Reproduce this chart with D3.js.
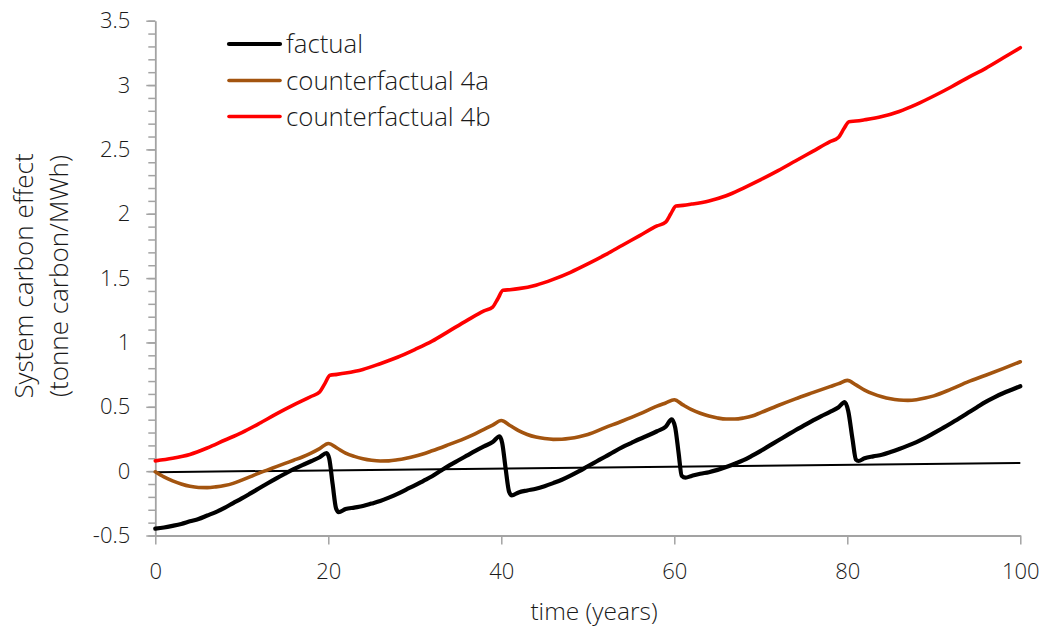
<!DOCTYPE html>
<html>
<head>
<meta charset="utf-8">
<script src="https://cdn.jsdelivr.net/npm/d3@7"></script>
<style>
  html, body { margin: 0; padding: 0; background: #fff; }
  svg { display: block; }
  text { font-family: "Open Sans", Lato, sans-serif; font-weight: 300; fill: #1a1a1a; }
</style>
</head>
<body>
<svg id="chart" width="1047" height="634"></svg>
<script>
// ---- series data: time (years) and system carbon effect (tonne carbon/MWh) ----
const factualX = [0,1,2,3,4,5,6,7,8,9,10,11,12,13,14,15,16,17,18,19,19.8,20.1,20.5,20.9,21.2,22,23,24,25,26,27,28,29,30,31,32,33,34,35,36,37,38,39,39.8,40.1,40.5,40.9,41.2,42,43,44,45,46,47,48,49,50,51,52,53,54,55,56,57,58,59,59.7,60.1,60.5,60.85,61.3,62,63,64,65,66,67,68,69,70,71,72,73,74,75,76,77,78,79,79.7,80.1,80.6,81,81.3,82,83,84,85,86,87,88,89,90,91,92,93,94,95,96,97,98,99,100];
const factualY = [-0.447,-0.438,-0.425,-0.41,-0.39,-0.372,-0.345,-0.318,-0.285,-0.248,-0.212,-0.173,-0.133,-0.094,-0.056,-0.02,0.015,0.047,0.077,0.108,0.141,0.10,-0.1,-0.29,-0.318,-0.295,-0.283,-0.271,-0.252,-0.232,-0.206,-0.177,-0.143,-0.11,-0.075,-0.04,0.003,0.045,0.083,0.12,0.157,0.192,0.226,0.27,0.22,0.02,-0.16,-0.188,-0.165,-0.15,-0.137,-0.117,-0.093,-0.067,-0.035,0.0,0.038,0.075,0.112,0.15,0.186,0.218,0.25,0.279,0.31,0.345,0.403,0.34,0.14,-0.035,-0.05,-0.037,-0.02,-0.008,0.01,0.032,0.058,0.085,0.12,0.158,0.198,0.238,0.278,0.318,0.355,0.392,0.428,0.46,0.497,0.537,0.47,0.25,0.09,0.079,0.1,0.115,0.127,0.148,0.172,0.198,0.226,0.258,0.295,0.333,0.372,0.413,0.455,0.497,0.538,0.573,0.605,0.633,0.66];

const cf4aX = [0,1,2,3,4,5,6,7,8,9,10,11,12,13,14,15,16,17,18,19,20,21,22,23,24,25,26,27,28,29,30,32,34,36,38,39,40,41,42,43,44,45,46,47,48,49,50,52,54,56,58,59,60,61,62,63,64,65,66,67,68,69,70,72,74,76,78,79,80,81,82,83,84,85,86,87,88,89,90,92,94,96,98,100];
const cf4aY = [-0.005,-0.045,-0.075,-0.1,-0.118,-0.127,-0.128,-0.122,-0.112,-0.095,-0.07,-0.043,-0.015,0.01,0.035,0.06,0.085,0.11,0.14,0.175,0.215,0.18,0.14,0.115,0.097,0.085,0.079,0.08,0.088,0.1,0.115,0.158,0.208,0.26,0.325,0.358,0.393,0.355,0.315,0.285,0.265,0.253,0.247,0.248,0.255,0.268,0.285,0.338,0.39,0.445,0.505,0.53,0.555,0.515,0.478,0.45,0.428,0.413,0.405,0.405,0.413,0.428,0.455,0.51,0.562,0.61,0.657,0.68,0.705,0.67,0.63,0.6,0.578,0.562,0.553,0.55,0.555,0.568,0.585,0.637,0.695,0.745,0.797,0.85];

const cf4bX = [0,2,4,6,8,10,12,14,16,18,19,19.6,20.2,21,22,24,26,28,30,32,34,36,38,39,39.6,40.2,41,42,44,46,48,50,52,54,56,58,59,59.6,60.2,61,62,64,66,68,70,72,74,76,78,79,79.6,80.2,81,82,84,86,88,90,92,94,96,98,100];
const cf4bY = [0.08,0.10,0.13,0.18,0.24,0.30,0.37,0.445,0.515,0.58,0.615,0.68,0.745,0.752,0.762,0.79,0.835,0.885,0.945,1.01,1.09,1.17,1.245,1.275,1.34,1.405,1.41,1.418,1.445,1.49,1.545,1.61,1.68,1.755,1.83,1.905,1.935,2.0,2.06,2.065,2.075,2.10,2.14,2.20,2.265,2.335,2.41,2.485,2.56,2.595,2.66,2.715,2.72,2.73,2.755,2.795,2.85,2.915,2.985,3.06,3.13,3.21,3.29];

// straight reference line
const refX = [0, 100];
const refY = [-0.008, 0.063];

const seriesNames = ["factual", "counterfactual 4a", "counterfactual 4b"];
const seriesColors = ["#000000", "#A3540F", "#FF0000"];

const xTicks = [0, 20, 40, 60, 80, 100];
const yTicks = [-0.5, 0, 0.5, 1, 1.5, 2, 2.5, 3, 3.5];
const yMinorTicks = d3.range(-5, 36).map(i => i / 10);

const xTitle = "time (years)";
const yTitleLines = ["System carbon effect", "(tonne carbon/MWh)"];

// ---- layout ----
const svg = d3.select("#chart");
const plot = { left: 155.3, right: 1020.3, top: 20.7, bottom: 535.5 };

const x = d3.scaleLinear().domain([0, 100]).range([plot.left, plot.right]);
const y = d3.scaleLinear().domain([-0.5, 3.5]).range([plot.bottom, plot.top]);

const axisColor = "#A3A3A3";
const fontFamily = "'Open Sans', Lato, sans-serif";

// y axis: minor ticks first, then major ticks with labels
const yMinor = svg.append("g").attr("transform", `translate(${plot.left},0)`)
  .call(d3.axisLeft(y).tickValues(yMinorTicks).tickSize(7).tickFormat(""));
yMinor.select(".domain").remove();
yMinor.selectAll("line").attr("stroke", axisColor).attr("stroke-width", 1.5);

const yAxis = svg.append("g").attr("transform", `translate(${plot.left},0)`)
  .call(d3.axisLeft(y).tickValues(yTicks).tickSize(9).tickSizeOuter(0).tickPadding(16)
    .tickFormat(d => String(d)));
yAxis.select(".domain").attr("stroke", axisColor).attr("stroke-width", 1.8);
yAxis.selectAll("line").attr("stroke", axisColor).attr("stroke-width", 1.5);
yAxis.selectAll("text").attr("font-size", 22).attr("font-family", fontFamily).attr("font-weight", 300).attr("fill", "#1a1a1a");

const xAxis = svg.append("g").attr("transform", `translate(0,${plot.bottom})`)
  .call(d3.axisBottom(x).tickValues(xTicks).tickSize(9).tickSizeOuter(0).tickPadding(19)
    .tickFormat(d => String(d)));
xAxis.select(".domain").attr("stroke", axisColor).attr("stroke-width", 1.8);
xAxis.selectAll("line").attr("stroke", axisColor).attr("stroke-width", 1.5);
xAxis.selectAll("text").attr("font-size", 22).attr("font-family", fontFamily).attr("font-weight", 300).attr("fill", "#1a1a1a");

// ---- lines ----
const line = d3.line().x(d => x(d[0])).y(d => y(d[1])).curve(d3.curveMonotoneX);
const zip = (xs, ys) => xs.map((v, i) => [v, ys[i]]);

svg.append("path").datum(zip(refX, refY))
  .attr("d", d3.line().x(d => x(d[0])).y(d => y(d[1])))
  .attr("fill", "none").attr("stroke", "#000").attr("stroke-width", 2);

const series = [zip(factualX, factualY), zip(cf4aX, cf4aY), zip(cf4bX, cf4bY)];
const widths = [4.2, 3.6, 3.6];
series.forEach((s, i) => {
  svg.append("path").datum(s).attr("d", line)
    .attr("fill", "none").attr("stroke", seriesColors[i])
    .attr("stroke-width", widths[i]).attr("stroke-linejoin", "round").attr("stroke-linecap", "round");
});

// ---- legend ----
const legend = svg.append("g");
const legendY = [44, 80.5, 116.5];
seriesNames.forEach((name, i) => {
  legend.append("line").attr("x1", 229).attr("x2", 280)
    .attr("y1", legendY[i]).attr("y2", legendY[i])
    .attr("stroke", seriesColors[i]).attr("stroke-width", widths[i]).attr("stroke-linecap", "round");
  legend.append("text").attr("x", 286).attr("y", legendY[i]).attr("dy", "0.35em")
    .attr("font-size", 25.8).text(name);
});

// ---- axis titles ----
svg.append("text").attr("x", 594).attr("y", 620)
  .attr("text-anchor", "middle").attr("font-size", 24.5).text(xTitle);

yTitleLines.forEach((t, i) => {
  svg.append("text")
    .attr("transform", `translate(${33 + i * 35},276) rotate(-90)`)
    .attr("text-anchor", "middle").attr("font-size", 26).text(t);
});
</script>
</body>
</html>
